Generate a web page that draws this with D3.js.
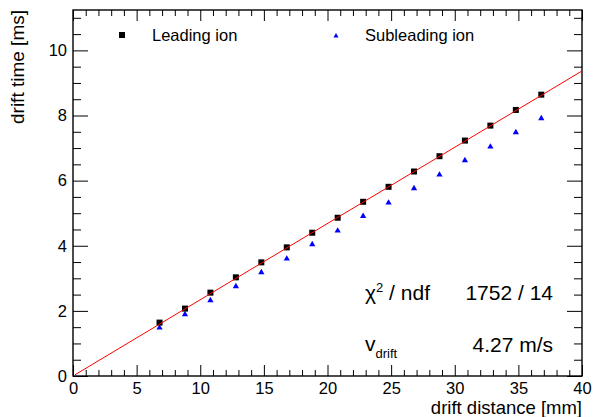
<!DOCTYPE html>
<html>
<head>
<meta charset="utf-8">
<script src="https://cdn.jsdelivr.net/npm/d3@7"></script>
<style>
  body { margin: 0; background: #fff; }
  text { font-family: "Liberation Sans", Arial, sans-serif; fill: #000; }
</style>
</head>
<body>
<div id="grafica"></div>
<script>
  // datos
  const driftDistance = [6.8, 8.8, 10.8, 12.8, 14.8, 16.8, 18.8, 20.8, 22.8, 24.8, 26.8, 28.8, 30.8, 32.8, 34.8, 36.8];
  const leadingTime = [1.64, 2.07, 2.56, 3.03, 3.49, 3.95, 4.40, 4.86, 5.35, 5.81, 6.28, 6.75, 7.23, 7.69, 8.17, 8.64];
  const subleadingTime = [1.48, 1.89, 2.32, 2.75, 3.18, 3.60, 4.04, 4.46, 4.91, 5.32, 5.76, 6.18, 6.62, 7.04, 7.48, 7.91];
  const seriesNames = ["Leading ion", "Subleading ion"];
  const xTicks = [0, 5, 10, 15, 20, 25, 30, 35, 40];
  const yTicks = [0, 2, 4, 6, 8, 10];
  const fitVdrift = 4.27;           // m/s == mm/ms
  const fitRange = [0.15, 40];
  const chi2 = 1752, ndf = 14;

  const width = 595, height = 417;
  const margin = { left: 73, right: 13, top: 10, bottom: 41 };

  const svg = d3.select("#grafica")
    .append("svg")
    .attr("width", width)
    .attr("height", height);

  const x = d3.scaleLinear().domain([0, 40]).range([margin.left, width - margin.right]);
  const y = d3.scaleLinear().domain([0, 11.24]).range([height - margin.bottom, margin.top]);

  const xMinor = d3.range(0, 41, 1).filter(v => v % 5 !== 0);
  const yMinor = d3.range(0, 11.25, 0.5).filter(v => v % 2 !== 0);

  // ejes (ticks hacia dentro, estilo ROOT)
  function eje(axis, transform, values, size, labels) {
    const g = svg.append("g")
      .attr("transform", transform)
      .call(axis.tickValues(values).tickSize(-size).tickSizeOuter(0)
        .tickFormat(labels ? d3.format("d") : ""));
    g.select(".domain").remove();
    g.selectAll("line").attr("stroke", "#000").attr("stroke-width", 1);
    g.selectAll("text").style("font-size", "16.5px").attr("font-family", null);
    return g;
  }

  const bottomY = y(0), topY = y.range()[1];
  eje(d3.axisBottom(x).tickPadding(6), `translate(0,${bottomY})`, xTicks, 11, true);
  eje(d3.axisBottom(x), `translate(0,${bottomY})`, xMinor, 6, false);
  eje(d3.axisTop(x), `translate(0,${topY})`, xTicks, 11, false);
  eje(d3.axisTop(x), `translate(0,${topY})`, xMinor, 6, false);

  eje(d3.axisLeft(y).tickPadding(6), `translate(${x(0)},0)`, yTicks, 15, true);
  eje(d3.axisLeft(y), `translate(${x(0)},0)`, yMinor, 8, false);
  eje(d3.axisRight(y), `translate(${x(40)},0)`, yTicks, 15, false);
  eje(d3.axisRight(y), `translate(${x(40)},0)`, yMinor, 8, false);

  // marco
  svg.append("rect")
    .attr("x", x(0))
    .attr("y", topY)
    .attr("width", x(40) - x(0))
    .attr("height", bottomY - topY)
    .attr("fill", "none")
    .attr("stroke", "#000")
    .attr("stroke-width", 1.4);

  // titulos
  svg.append("text")
    .attr("transform", `translate(24,${topY}) rotate(-90)`)
    .attr("text-anchor", "end")
    .style("font-size", "19px")
    .text("drift time [ms]");

  svg.append("text")
    .attr("x", x(40))
    .attr("y", 414)
    .attr("text-anchor", "end")
    .style("font-size", "18.5px")
    .text("drift distance [mm]");

  const tri = d3.symbol().type(d3.symbolTriangle);

  // subleading
  svg.append("g")
    .selectAll("path")
    .data(driftDistance)
    .join("path")
    .attr("d", tri.size(17)())
    .attr("transform", (d, i) => `translate(${x(d)},${y(subleadingTime[i])})`)
    .attr("fill", "#0000ff");

  // leading
  svg.append("g")
    .selectAll("rect")
    .data(driftDistance)
    .join("rect")
    .attr("x", d => x(d) - 3)
    .attr("y", (d, i) => y(leadingTime[i]) - 3)
    .attr("width", 6)
    .attr("height", 6)
    .attr("fill", "#000");

  // ajuste lineal t = d / v
  svg.append("path")
    .datum(fitRange)
    .attr("d", d3.line().x(d => x(d)).y(d => y(d / fitVdrift)))
    .attr("stroke", "#ff0000")
    .attr("stroke-width", 1)
    .attr("fill", "none");

  // leyenda
  svg.append("rect")
    .attr("x", 119).attr("y", 32).attr("width", 6).attr("height", 6)
    .attr("fill", "#000");
  svg.append("text")
    .attr("x", 152).attr("y", 41)
    .style("font-size", "16.5px")
    .text(seriesNames[0]);
  svg.append("path")
    .attr("d", tri.size(11)())
    .attr("transform", "translate(336,36)")
    .attr("fill", "#0000ff");
  svg.append("text")
    .attr("x", 365).attr("y", 41)
    .style("font-size", "16.5px")
    .text(seriesNames[1]);

  // caja de estadisticas
  const chiT = svg.append("text")
    .attr("x", 365).attr("y", 300)
    .style("font-size", "21px");
  chiT.append("tspan").text("χ");
  chiT.append("tspan").attr("dy", -8).style("font-size", "13px").text("2");
  chiT.append("tspan").attr("dy", 8).text(" / ndf");

  svg.append("text")
    .attr("x", 553).attr("y", 300)
    .attr("text-anchor", "end")
    .style("font-size", "21px")
    .text(`${chi2} / ${ndf}`);

  const vT = svg.append("text")
    .attr("x", 365).attr("y", 351)
    .style("font-size", "21px");
  vT.append("tspan").text("v");
  vT.append("tspan").attr("dy", 7).style("font-size", "13px").text("drift");

  svg.append("text")
    .attr("x", 553).attr("y", 352)
    .attr("text-anchor", "end")
    .style("font-size", "21px")
    .text(`${fitVdrift.toFixed(2)} m/s`);
</script>
</body>
</html>
